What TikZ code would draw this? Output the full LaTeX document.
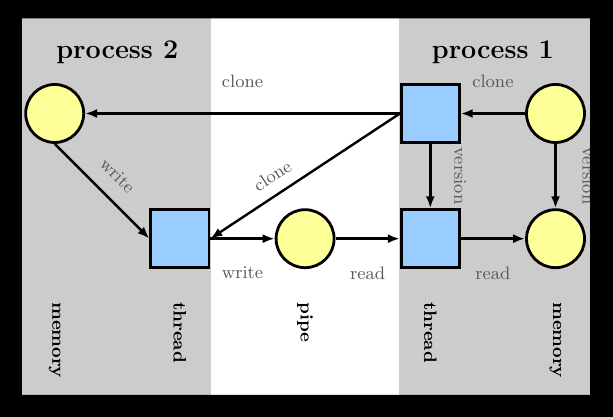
\documentclass[tikz,border=0pt]{standalone}
\usetikzlibrary{arrows.meta}
\definecolor{memyellow}{RGB}{255,255,153}
\definecolor{thrblue}{RGB}{153,204,255}
\definecolor{panelgray}{RGB}{204,204,204}
\begin{document}
\begin{tikzpicture}[
    mem/.style={circle,draw,line width=1.4pt,fill=memyellow,minimum size=29pt,inner sep=0pt},
    thr/.style={rectangle,draw,line width=1.4pt,fill=thrblue,minimum size=29pt,inner sep=0pt},
    lbl/.style={font=\small,text=black!65},
    col/.style={font=\small\bfseries,rotate=-90,anchor=west,inner sep=0pt},
    title/.style={font=\fontsize{13.5}{16}\selectfont\bfseries,anchor=base}]
  \useasboundingbox (-0.961,1.994) rectangle (9.810,-5.333);
  \fill[panelgray] (-0.6,1.7) rectangle (9.45,-4.97);
  \fill[white] (2.75,1.7) rectangle (6.05,-4.97);
  \node[title] (p2) at (1.1,0.97) {process 2};
  \node[title] (p1) at (7.7,0.97) {process 1};
  \draw
    (0,0) node[mem] (mem2) {}
    (2.2,-2.2) node[thr] (thr2) {}
    (4.4,-2.2) node[mem] (pipe) {}
    (6.6,0) node[thr] (thr1) {}
    (6.6,-2.2) node[thr] (thr1v) {}
    (8.8,0) node[mem] (mem1) {}
    (8.8,-2.2) node[mem] (mem1v) {};
  \begin{scope}[-{Latex[length=6pt,width=4.5pt]},line width=1.2pt]
    \draw (thr1.west) to node[lbl,above=9pt] {clone} (mem2.east);
    \draw (thr1.west) to node[lbl,sloped,above=2pt,pos=0.62] {clone} (thr2.east);
    \draw (mem1) to node[lbl,above=9pt] {clone} (thr1);
    \draw (mem2.south) to node[lbl,sloped,above=4pt] {write} (thr2.west);
    \draw (thr2) to node[lbl,below=10pt] {write} (pipe);
    \draw (pipe) to node[lbl,below=10pt] {read} (thr1v);
    \draw (thr1v) to node[lbl,below=10pt] {read} (mem1v);
    \draw (thr1) to node[lbl,sloped,above=8pt] {version} (thr1v);
    \draw (mem1) to node[lbl,sloped,above=9.5pt] {version} (mem1v);
  \end{scope}
  \node[col] (cmem2) at (0,-3.31) {memory};
  \node[col] (cthr2) at (2.2,-3.31) {thread};
  \node[col] (cpipe) at (4.4,-3.31) {pipe};
  \node[col] (cthr1) at (6.6,-3.31) {thread};
  \node[col] (cmem1) at (8.8,-3.31) {memory};
  \fill[black,even odd rule] (-0.961,1.994) rectangle (9.810,-5.333)
    (-0.575,1.669) rectangle (9.406,-4.946);
\end{tikzpicture}
\end{document}
